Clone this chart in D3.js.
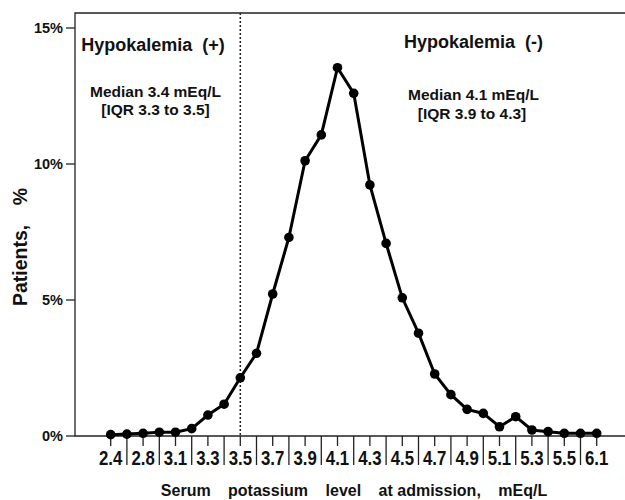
<!DOCTYPE html>
<html>
<head>
<meta charset="utf-8">
<script src="https://cdn.jsdelivr.net/npm/d3@7"></script>
<style>
  body { margin: 0; background: #fff; }
  text { font-family: "Liberation Sans", Arial, sans-serif; font-weight: bold; fill: #111; }
</style>
</head>
<body>
<div id="c"></div>
<script>
// potassium bins (only every other one is labelled on the axis)
var levels = ['2.4','2.6','2.8','3.0','3.1','3.2','3.3','3.4','3.5','3.6','3.7','3.8','3.9','4.0','4.1','4.2',
	'4.3','4.4','4.5','4.6','4.7','4.8','4.9','5.0','5.1','5.2','5.3','5.4','5.5','5.8','6.1'];
var patients = [0.05, 0.07, 0.1, 0.14, 0.14, 0.27, 0.77, 1.17, 2.14, 3.04, 5.22, 7.3, 10.12, 11.07, 13.54, 12.6,
	9.23, 7.08, 5.08, 3.78, 2.28, 1.52, 0.98, 0.83, 0.34, 0.71, 0.22, 0.16, 0.1, 0.1, 0.1];
var y_ticks = [0, 5, 10, 15];
var cutoff = '3.5';

var width = 625;
var height = 500;

var x_left = 75;
var y_top = 13;
var y_bottom = 436;

var svg = d3.select("#c").append('svg')
	.attr("width", width)
	.attr("height", height);

var x_scale = d3.scalePoint()
	.domain(levels)
	.range([110.7, 596.7]);

var y_scale = d3.scaleLinear()
	.domain([0, 15])
	.range([y_bottom, 28]);

// frame: left axis + top line + bottom axis
svg.append("path")
	.attr("d", "M" + width + "," + y_top + "H" + x_left + "V" + y_bottom + "H" + width)
	.attr("fill", "none")
	.attr("stroke", "#222")
	.attr("stroke-width", 1.3);

// y ticks
var yt = svg.append("g");
yt.selectAll("line")
	.data(y_ticks)
	.enter()
	.append("line")
	.attr("x1", 66).attr("x2", x_left)
	.attr("y1", function(d) { return y_scale(d); })
	.attr("y2", function(d) { return y_scale(d); })
	.attr("stroke", "#222")
	.attr("stroke-width", 1.3);
yt.selectAll("text")
	.data(y_ticks)
	.enter()
	.append("text")
	.attr("x", 63)
	.attr("y", function(d) { return y_scale(d) + 5; })
	.attr("text-anchor", "end")
	.style("font-size", "14.5px")
	.text(function(d) { return d + "%"; });

// x ticks: short under labelled bins, long separators between them
svg.append("g").selectAll("line")
	.data(levels)
	.enter()
	.append("line")
	.attr("x1", function(d) { return x_scale(d); })
	.attr("x2", function(d) { return x_scale(d); })
	.attr("y1", y_bottom)
	.attr("y2", function(d, i) { return i % 2 ? 465 : 446; })
	.attr("stroke", "#222")
	.attr("stroke-width", 1.3);

svg.append("g").selectAll("text")
	.data(levels.filter(function(d, i) { return i % 2 == 0; }))
	.enter()
	.append("text")
	.attr("transform", function(d) { return "translate(" + x_scale(d) + ",465) scale(1,1.2)"; })
	.attr("text-anchor", "middle")
	.style("font-size", "16.8px")
	.text(function(d) { return d; });

// cutoff line
svg.append("line")
	.attr("x1", x_scale(cutoff)).attr("x2", x_scale(cutoff))
	.attr("y1", y_top).attr("y2", y_bottom)
	.attr("stroke", "#222")
	.attr("stroke-width", 1.5)
	.attr("stroke-dasharray", "2,2");

// series
var line = d3.line()
	.x(function(d, i) { return x_scale(levels[i]); })
	.y(function(d) { return y_scale(d); });

svg.append("path")
	.datum(patients)
	.attr("d", line)
	.attr("fill", "none")
	.attr("stroke", "#000")
	.attr("stroke-width", 3);

svg.append("g").selectAll("circle")
	.data(patients)
	.enter()
	.append("circle")
	.attr("cx", function(d, i) { return x_scale(levels[i]); })
	.attr("cy", function(d) { return y_scale(d); })
	.attr("r", 4.8)
	.attr("fill", "#000");

// annotations
var notes = [
	{x: 153, y: 50.5, size: 18, t: "Hypokalemia\u00a0\u00a0(+)"},
	{x: 155.5, y: 97, size: 15.5, t: "Median 3.4 mEq/L"},
	{x: 155.5, y: 114.5, size: 15.5, t: "[IQR 3.3 to 3.5]"},
	{x: 473.5, y: 47.5, size: 18, t: "Hypokalemia\u00a0\u00a0(-)"},
	{x: 473.5, y: 100, size: 15.5, t: "Median 4.1 mEq/L"},
	{x: 472, y: 118.5, size: 15.5, t: "[IQR 3.9 to 4.3]"}
];
svg.append("g").selectAll("text")
	.data(notes)
	.enter()
	.append("text")
	.attr("x", function(d) { return d.x; })
	.attr("y", function(d) { return d.y; })
	.attr("text-anchor", "middle")
	.style("font-size", function(d) { return d.size + "px"; })
	.text(function(d) { return d.t; });

// axis titles, wide word gaps as in the original
var xt = svg.append("text")
	.attr("x", 354)
	.attr("y", 495.5)
	.attr("text-anchor", "middle")
	.style("font-size", "16px");
["Serum", "potassium", "level", "at admission,", "mEq/L"].forEach(function(w, i) {
	xt.append("tspan").attr("dx", i ? 13 : 0).text((i ? " " : "") + w);
});

var ytl = svg.append("text")
	.attr("transform", "translate(27,247) rotate(-90)")
	.attr("text-anchor", "middle")
	.style("font-size", "19.5px");
ytl.append("tspan").text("Patients,");
ytl.append("tspan").attr("dx", 14).text(" %");
</script>
</body>
</html>
